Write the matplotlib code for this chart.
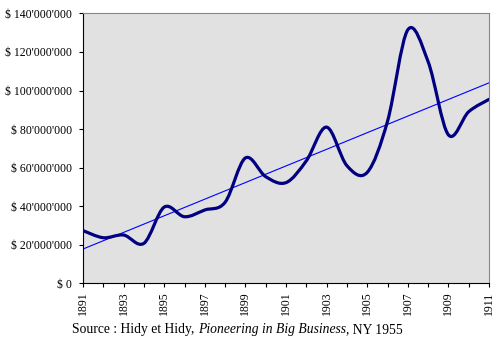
import numpy as np
import matplotlib
matplotlib.use("Agg")
import matplotlib.pyplot as plt
from matplotlib.path import Path
from matplotlib.patches import PathPatch
from matplotlib.ticker import FuncFormatter

years = list(range(1891, 1912))
# values in millions of dollars
values = [27.3, 23.6, 25.0, 20.7, 39.5, 34.5, 38.0, 42.0, 65.0, 55.3,
          52.2, 63.5, 81.0, 61.0, 57.5, 84.0, 131.5, 115.0, 77.0, 89.0, 95.4]
year_labels = [str(y) if (y - 1891) % 2 == 0 else "" for y in years]

plt.rcParams['font.family'] = ['Liberation Serif', 'DejaVu Serif']


def smooth_path(x, y):
    # catmull-rom style bezier, like a spreadsheet "smoothed line"
    pts = np.column_stack([x, y]).astype(float)
    verts = [pts[0]]
    codes = [Path.MOVETO]
    n = len(pts)
    for i in range(n - 1):
        p0 = pts[max(i - 1, 0)]
        p1 = pts[i]
        p2 = pts[i + 1]
        p3 = pts[min(i + 2, n - 1)]
        verts += [p1 + (p2 - p0) / 6, p2 - (p3 - p1) / 6, p2]
        codes += [Path.CURVE4] * 3
    return Path(verts, codes)


def money(v, pos):
    if v == 0:
        return "$ 0"
    s = f"{int(round(v * 1e6)):,}".replace(",", "'")
    return "$ " + s


fig = plt.figure(figsize=(5, 3.54), dpi=100)
ax = fig.add_axes([0.166, 0.2, 0.812, 0.762])
ax.set_facecolor('#e1e1e1')

ax.add_patch(PathPatch(smooth_path(years, values), fill=False,
                       edgecolor='#000080', lw=2.3, capstyle='round',
                       joinstyle='round', zorder=3))

slope, icpt = np.polyfit(years, values, 1)
trend_x = np.array([years[0], years[-1]])
ax.plot(trend_x, slope * trend_x + icpt, color='#0000ff', lw=0.8, zorder=2)

ax.set_xlim(years[0], years[-1])
ax.set_ylim(0, 140)
ax.set_xticks(years)
ax.set_xticklabels(year_labels, rotation=90, fontsize=8.5)
ax.set_yticks(np.arange(0, 141, 20))
ax.yaxis.set_major_formatter(FuncFormatter(money))
ax.tick_params(axis='y', labelsize=8.5, length=3, width=0.8, pad=5)
ax.tick_params(axis='x', length=3, width=0.8, pad=3)

for s in ['top', 'right']:
    ax.spines[s].set_color('#888888')
for s in ['left', 'bottom']:
    ax.spines[s].set_color('black')
for s in ax.spines.values():
    s.set_linewidth(0.8)

t1 = fig.text(0.144, 0.06, "Source : Hidy et Hidy, ", fontsize=9.8, va='baseline')
t2 = ax.annotate("Pioneering in Big Business", xy=(1, 0), xycoords=t1,
                 fontsize=9.8, style='italic', va='bottom', annotation_clip=False)
t3 = ax.annotate(", NY 1955", xy=(1, 0), xycoords=t2,
                 fontsize=9.8, va='bottom', annotation_clip=False)

fig.savefig("out.png", dpi=100)
